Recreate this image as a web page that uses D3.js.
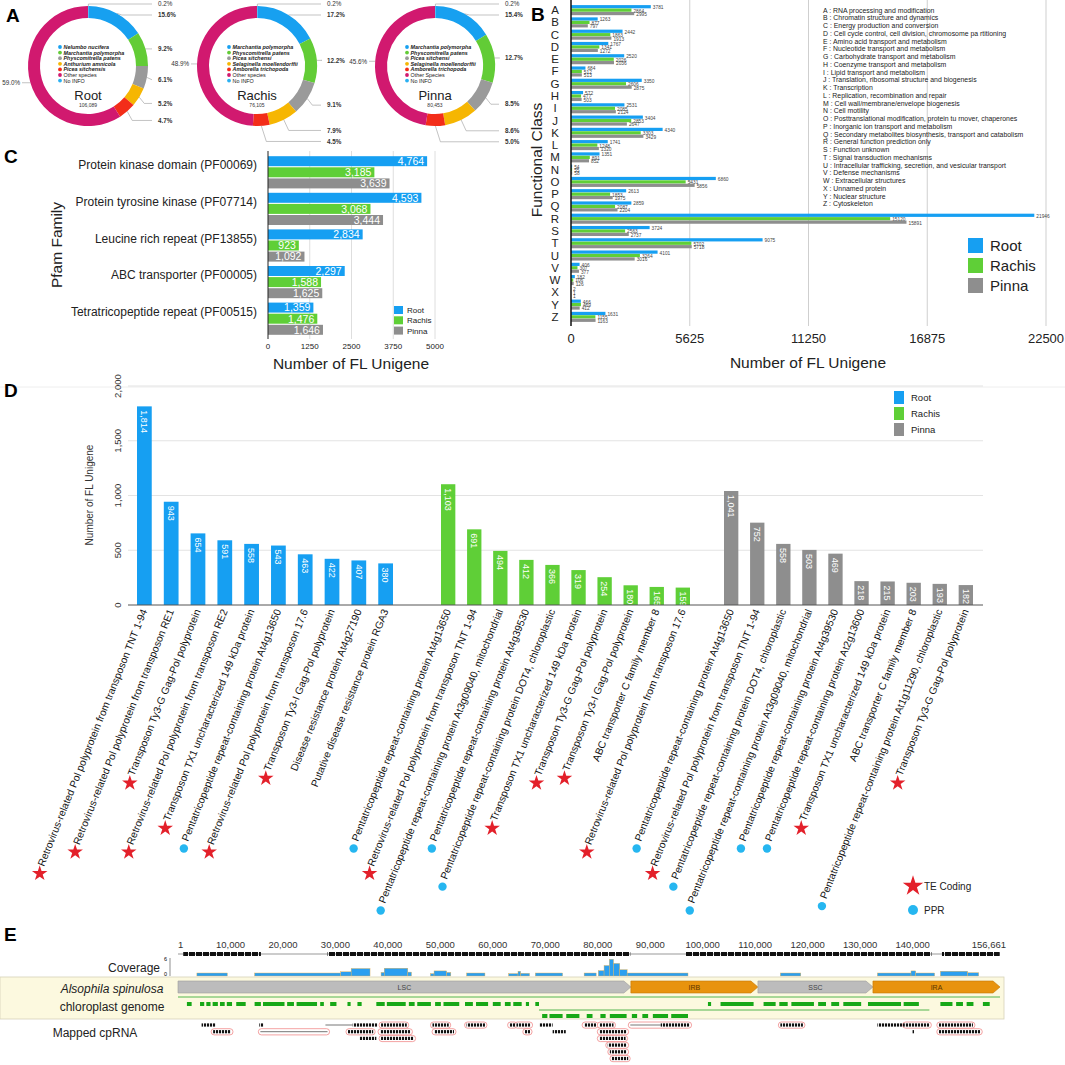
<!DOCTYPE html>
<html>
<head>
<meta charset="utf-8">
<script src="https://cdn.jsdelivr.net/npm/d3@7"></script>
<style>
  body { margin: 0; background: #fff; }
  svg { font-family: "Liberation Sans", Arial, Helvetica, sans-serif; }
</style>
</head>
<body>
<svg id="fig" width="1065" height="1065"></svg>
<script>
// ---------------- data ----------------
var tissues = ["Root", "Rachis", "Pinna"];

// A : species distribution (No INFO first, then named species, other species last)
var rootSpecies = ["No INFO", "Nelumbo nucifera", "Marchantia polymorpha", "Physcomitrella patens", "Anthurium amnicola", "Picea sitchensis", "Other species"];
var rootPct = [0.2, 15.6, 9.2, 6.1, 5.2, 4.7, 59.0];
var rachisSpecies = ["No INFO", "Marchantia polymorpha", "Physcomitrella patens", "Picea sitchensi", "Selaginella moellendorffii", "Amborella trichopoda", "Other species"];
var rachisPct = [0.2, 17.2, 12.2, 9.1, 7.9, 4.5, 48.9];
var pinnaSpecies = ["No INFO", "Marchantia polymorpha", "Physcomitrella patens", "Picea sitchensi", "Selaginella moellendorffii", "Amborella trichopoda", "Other Species"];
var pinnaPct = [0.2, 15.4, 12.7, 8.5, 8.6, 5.0, 45.6];
var donutTotals = ["106,089", "76,105", "80,453"];

// B : KOG functional classes
var cogLetters = "ABCDEFGHIJKLMNOPQRSTUVWXYZ".split("");
var cogNames = ["RNA processing and modification", "Chromatin structure and dynamics", "Energy production and conversion",
  "Cell cycle control, cell division, chromosome pa rtitioning", "Amino acid transport and metabolism", "Nucleotide transport and metabolism",
  "Carbohydrate transport and metabolism", "Coenzyme transport and metabolism", "Lipid transport and metabolism",
  "Translation, ribosomal structure and biogenesis", "Transcription", "Replication, recombination and repair",
  "Cell wall/membrane/envelope biogenesis", "Cell motility", "Posttranslational modification, protein tu rnover, chaperones",
  "Inorganic ion transport and metabolism", "Secondary metabolites biosynthesis, transport and catabolism", "General function prediction only",
  "Function unknown", "Signal transduction mechanisms", "Intracellular trafficking, secretion, and vesicular transport",
  "Defense mechanisms", "Extracellular structures", "Unnamed protein", "Nuclear structure", "Cytoskeleton"];
var cogRoot   = [3781, 1263, 2442, 1767, 2520, 684, 3350, 572, 2531, 3404, 4340, 1741, 1351, 54, 6860, 2613, 2859, 21946, 3724, 9075, 4101, 406, 182, 2, 466, 1631];
var cogRachis = [2864, 877, 1863, 1341, 2026, 512, 2606, 477, 2085, 2853, 3303, 1248, 891, 55, 5431, 1853, 2087, 15120, 2563, 5702, 3264, 307, 106, 1, 469, 1155];
var cogPinna  = [2995, 797, 1913, 1272, 2036, 513, 2875, 503, 2124, 2647, 3429, 1320, 852, 58, 5856, 1975, 2204, 15891, 2737, 5718, 3016, 377, 126, 1, 412, 1163];
var cogTicks = [0, 5625, 11250, 16875, 22500];

// C : Pfam families
var pfamFamilies = ["Protein kinase domain (PF00069)", "Protein tyrosine kinase (PF07714)", "Leucine rich repeat (PF13855)", "ABC transporter (PF00005)", "Tetratricopeptide repeat (PF00515)"];
var pfamRoot = [4764, 4593, 2834, 2297, 1359];
var pfamRachis = [3185, 3068, 923, 1588, 1476];
var pfamPinna = [3639, 3444, 1092, 1625, 1646];
var pfamTicks = [0, 1250, 2500, 3750, 5000];

// D : top 10 annotations per tissue
var dRootLabels = ["Retrovirus-related Pol polyprotein from transposon TNT 1-94", "Retrovirus-related Pol polyprotein from transposon RE1",
  "Transposon Ty3-G Gag-Pol polyprotein", "Retrovirus-related Pol polyprotein from transposon RE2", "Transposon TX1 uncharacterized 149 kDa protein",
  "Pentatricopeptide repeat-containing protein At4g13650", "Retrovirus-related Pol polyprotein from transposon 17.6", "Transposon Ty3-I Gag-Pol polyprotein",
  "Disease resistance protein At4g27190", "Putative disease resistance protein RGA3"];
var dRootValues = [1814, 943, 654, 591, 558, 543, 463, 422, 407, 380];
var dRootMarks = ["te", "te", "te", "te", "te", "ppr", "te", "te", "", ""];
var dRachisLabels = ["Pentatricopeptide repeat-containing protein At4g13650", "Retrovirus-related Pol polyprotein from transposon TNT 1-94",
  "Pentatricopeptide repeat-containing protein At3g09040, mitochondrial", "Pentatricopeptide repeat-containing protein At4g39530",
  "Pentatricopeptide repeat-containing protein DOT4, chloroplastic", "Transposon TX1 uncharacterized 149 kDa protein", "Transposon Ty3-G Gag-Pol polyprotein",
  "Transposon Ty3-I Gag-Pol polyprotein", "ABC transporter C family member 8", "Retrovirus-related Pol polyprotein from transposon 17.6"];
var dRachisValues = [1103, 691, 494, 412, 366, 319, 254, 180, 165, 159];
var dRachisMarks = ["ppr", "te", "ppr", "ppr", "ppr", "te", "te", "te", "", "te"];
var dPinnaLabels = ["Pentatricopeptide repeat-containing protein At4g13650", "Retrovirus-related Pol polyprotein from transposon TNT 1-94",
  "Pentatricopeptide repeat-containing protein DOT4, chloroplastic", "Pentatricopeptide repeat-containing protein At3g09040, mitochondrial",
  "Pentatricopeptide repeat-containing protein At4g39530", "Pentatricopeptide repeat-containing protein At2g13600", "Transposon TX1 uncharacterized 149 kDa protein",
  "ABC transporter C family member 8", "Pentatricopeptide repeat-containing protein At1g11290, chloroplastic", "Transposon Ty3-G Gag-Pol polyprotein"];
var dPinnaValues = [1041, 752, 558, 503, 469, 218, 215, 203, 193, 182];
var dPinnaMarks = ["ppr", "te", "ppr", "ppr", "ppr", "ppr", "te", "", "ppr", "te"];
var dTicks = [0, 500, 1000, 1500, 2000];

// E : chloroplast genome (positions in bp / kb)
var genomeLength = 156661;
var genomeTicks = [1, 10000, 20000, 30000, 40000, 50000, 60000, 70000, 80000, 90000, 100000, 110000, 120000, 130000, 140000, 156661];
var genomeRegions = [["LSC", 1, 86308], ["IRB", 86309, 110524], ["SSC", 110525, 132446], ["IRA", 132447, 156661]];
var rulerBlack = [[1, 15.8], [28.5, 86.2], [96.8, 143.6], [145.6, 156.6]];
var coverage = [[3.6, 9.4, 1], [14.6, 31.0, 1], [31.0, 33.0, 1.4], [33.0, 36.6, 2.5], [38.7, 39.3, 1.2], [39.3, 43.8, 2.6], [43.8, 44.5, 1.3],
  [48.1, 48.8, 0.8], [48.8, 51.2, 1.7], [51.2, 52.0, 1.2], [55.0, 58.5, 1], [63.0, 64.8, 0.8], [64.8, 65.3, 1.6], [65.3, 67.0, 0.9],
  [68.1, 73.3, 1], [77.4, 79.7, 1], [80.1, 81.2, 1.8], [81.2, 82.2, 3.5], [82.2, 83.0, 5.6], [83.0, 84.2, 4.2], [84.2, 85.6, 2.1],
  [85.6, 97.2, 1], [114.8, 118.7, 1], [133.3, 139.7, 1], [139.7, 140.6, 1.7], [140.6, 144.2, 1], [145.3, 150.5, 1.6], [150.5, 152.6, 1.1]];
var genesTop = [[1.7, 2.6], [4.2, 5.0], [5.4, 6.2], [6.6, 7.6], [8.0, 8.9], [9.3, 10.3], [11.1, 12.9], [14.6, 15.8], [16.2, 20.3], [20.8, 22.1],
  [22.6, 26.5], [27.1, 27.8], [29.0, 30.2], [32.3, 32.9], [34.2, 35.0], [37.8, 39.4], [39.8, 43.4], [44.0, 45.1], [45.6, 48.2], [49.0, 50.1],
  [50.6, 53.6], [54.7, 56.2], [56.8, 59.1], [60.0, 61.5], [62.3, 63.4], [63.9, 65.5], [66.3, 66.9], [68.1, 68.8], [101.0, 101.6], [103.4, 109.7],
  [111.6, 113.9], [114.6, 116.2], [116.9, 121.2], [122.0, 123.5], [124.5, 126.0], [126.8, 130.2], [131.5, 137.8], [138.3, 141.2],
  [145.3, 147.6], [148.3, 149.6], [150.3, 151.6], [153.4, 154.7]];
var genesBottom = [[69.4, 70.4], [70.8, 73.3], [74.0, 76.5], [77.9, 79.0], [80.5, 81.5], [82.3, 85.5], [86.5, 87.5], [88.5, 89.6], [90.5, 93.4], [94.0, 97.2]];
var reads = [[4.5, 7.2, 0], [15.5, 16.3, 0], [28.1, 33.3, 0, "line"], [33.3, 38.0, 0], [38.7, 43.6, 0], [48.5, 51.6, 0], [55.0, 58.5, 0],
  [63.2, 64.3, 0], [64.5, 67.2, 0], [68.8, 71.4, 0], [77.4, 79.7, 0], [80.3, 83.0, 0], [86.2, 92.0, 0, "line"], [92.0, 97.5, 0],
  [114.8, 119.1, 0], [133.3, 138.5, 0], [138.5, 143.2, 0], [145.0, 151.5, 0],
  [6.7, 10.1, 1], [15.7, 28.5, 1, "line"], [32.4, 37.2, 1], [38.5, 44.3, 1], [48.8, 52.6, 1], [66.1, 67.1, 1], [71.4, 73.9, 1],
  [80.3, 85.5, 1], [140.0, 140.3, 1], [145.0, 152.9, 1],
  [34.6, 37.8, 2], [38.7, 44.9, 2], [80.3, 85.3, 2], [81.9, 85.5, 3], [82.3, 85.5, 4], [82.7, 85.8, 5]];
var readBoxes = [[38.7, 43.6, 0], [48.5, 51.6, 0], [55.0, 58.5, 0], [63.2, 64.3, 0], [64.5, 67.2, 0], [77.4, 79.7, 0], [80.3, 83.0, 0],
  [86.2, 97.5, 0], [114.8, 119.1, 0], [138.5, 143.2, 0], [145.0, 151.5, 0],
  [6.7, 10.1, 1], [15.7, 28.5, 1], [32.4, 37.2, 1], [38.5, 44.3, 1], [48.8, 52.6, 1], [66.1, 67.1, 1], [80.3, 85.5, 1], [145.0, 152.9, 1],
  [38.7, 44.9, 2], [80.3, 85.3, 2], [81.9, 85.5, 3], [82.3, 85.5, 4], [82.7, 85.8, 5]];

// ---------------- drawing ----------------
var svg = d3.select("#fig");
var colors = ["#169ff2", "#5fcf37", "#8e8e8e"];
var sliceColors = ["#2ab0f2", "#17a0f0", "#62cc36", "#9a9a9a", "#f6b602", "#f32d19", "#d1196f"];

function panelLetter(t, x, y) {
  svg.append("text").attr("x", x).attr("y", y).attr("font-size", 19).attr("font-weight", "bold").text(t);
}

// ===== A =====
panelLetter("A", 6, 22);
function donut(cx, cy, name, total, species, pct) {
  var R = 60, r = 48;
  var g = svg.append("g").attr("transform", "translate(" + cx + "," + cy + ")");
  var arcs = d3.pie().sort(null).value(function(d) { return d; })(pct);
  var arc = d3.arc().innerRadius(r).outerRadius(R);
  g.selectAll("path.slice").data(arcs).enter().append("path").attr("class", "slice")
    .attr("d", arc).attr("fill", function(d, i) { return sliceColors[i]; });

  var prev = -Infinity;
  arcs.forEach(function(d, i) {
    var a = (d.startAngle + d.endAngle) / 2;
    var px = R * Math.sin(a), py = -R * Math.cos(a);
    var txt = pct[i].toFixed(1) + "%";
    var path, tx, ty, anchor = "start";
    if (i == 0) {
      ty = -R - 2;
      path = "M" + px + "," + py + "V" + ty + "H" + (R + 4);
      tx = R + 10;
    } else if (i == pct.length - 1) {
      ty = py;
      path = "M" + px + "," + py + "H" + (-R - 6);
      tx = -R - 8; anchor = "end";
    } else {
      ty = py > 0 ? py * 1.2 : py;
      ty = Math.max(ty, prev + 11);
      path = "M" + px + "," + py + "L" + (px + 5) + "," + ty + "H" + (R + 4);
      tx = R + 10;
    }
    prev = ty;
    g.append("path").attr("d", path).attr("fill", "none").attr("stroke", "#9a9a9a").attr("stroke-width", 0.6);
    g.append("text").attr("x", tx).attr("y", ty + 2.2).attr("text-anchor", anchor).attr("font-size", 6.3)
      .attr("font-weight", (i > 0 && i < pct.length - 1) ? "bold" : "normal").attr("fill", "#333").text(txt);
  });

  // inner legend: named species, other species, no info
  var order = [1, 2, 3, 4, 5, 6, 0];
  order.forEach(function(k, j) {
    var y = -19 + j * 5.6;
    g.append("circle").attr("cx", -28).attr("cy", y).attr("r", 1.9).attr("fill", sliceColors[k]);
    g.append("text").attr("x", -24.5).attr("y", y + 1.9).attr("font-size", 5.4)
      .attr("font-style", k >= 1 && k <= 5 ? "italic" : "normal")
      .attr("font-weight", k >= 1 && k <= 5 ? "bold" : "normal").attr("fill", "#222").text(species[k]);
  });
  g.append("text").attr("y", 34).attr("text-anchor", "middle").attr("font-size", 13).attr("fill", "#222").text(name);
  g.append("text").attr("y", 41).attr("text-anchor", "middle").attr("font-size", 5).attr("fill", "#333").text(total);
}
donut(88, 66, "Root", donutTotals[0], rootSpecies, rootPct);
donut(257, 66, "Rachis", donutTotals[1], rachisSpecies, rachisPct);
donut(435, 66, "Pinna", donutTotals[2], pinnaSpecies, pinnaPct);

// ===== B =====
panelLetter("B", 531, 21);
var xB = d3.scaleLinear().domain([0, 22500]).range([571, 1046]);
var yB = d3.scaleBand().domain(cogLetters).range([4, 323]).paddingInner(0.18).paddingOuter(0.09);
var subB = d3.scaleBand().domain(tissues).range([0, yB.bandwidth()]).paddingInner(0.06);
var cogSeries = [cogRoot, cogRachis, cogPinna];

svg.append("g").selectAll("line").data(cogTicks.slice(1)).enter().append("line")
  .attr("x1", function(d) { return xB(d); }).attr("x2", function(d) { return xB(d); })
  .attr("y1", 0).attr("y2", 326).attr("stroke", "#cfcfcf").attr("stroke-width", 1);

// category legend
svg.append("g").selectAll("text").data(cogLetters).enter().append("text")
  .attr("x", 823).attr("y", function(d, i) { return 12.5 + i * 7.75; })
  .attr("font-size", 6.9).attr("fill", "#222")
  .text(function(d, i) { return d + " : " + cogNames[i]; });

cogSeries.forEach(function(vals, s) {
  var g = svg.append("g");
  g.selectAll("rect").data(vals).enter().append("rect")
    .attr("x", xB(0)).attr("y", function(d, i) { return yB(cogLetters[i]) + subB(tissues[s]); })
    .attr("width", function(d) { return xB(d) - xB(0); }).attr("height", subB.bandwidth())
    .attr("fill", colors[s]);
  g.selectAll("text").data(vals).enter().append("text")
    .attr("x", function(d) { return xB(d) + 2; })
    .attr("y", function(d, i) { return yB(cogLetters[i]) + subB(tissues[s]) + subB.bandwidth() + 0.8; })
    .attr("font-size", 4.8).attr("fill", "#444").text(function(d) { return d; });
});
svg.append("line").attr("x1", xB(0)).attr("x2", xB(0)).attr("y1", 0).attr("y2", 326).attr("stroke", "#111").attr("stroke-width", 1.5);
svg.append("g").selectAll("text").data(cogLetters).enter().append("text")
  .attr("x", 555).attr("y", function(d) { return yB(d) + yB.bandwidth() / 2 + 4; })
  .attr("text-anchor", "middle").attr("font-size", 11.5).attr("fill", "#222").text(function(d) { return d; });
svg.append("g").selectAll("text").data(cogTicks).enter().append("text")
  .attr("x", function(d) { return xB(d); }).attr("y", 343).attr("text-anchor", "middle")
  .attr("font-size", 13).attr("fill", "#222").text(function(d) { return d; });
svg.append("text").attr("x", 808).attr("y", 368).attr("text-anchor", "middle").attr("font-size", 15.5).attr("fill", "#222").text("Number of FL Unigene");
svg.append("text").attr("transform", "translate(542,160) rotate(-90)").attr("text-anchor", "middle")
  .attr("font-size", 15.5).attr("fill", "#222").text("Functional Class");
var legB = svg.append("g").selectAll("g").data(tissues).enter().append("g")
  .attr("transform", function(d, i) { return "translate(968," + (238 + i * 20) + ")"; });
legB.append("rect").attr("width", 15).attr("height", 15).attr("fill", function(d, i) { return colors[i]; });
legB.append("text").attr("x", 22).attr("y", 13).attr("font-size", 15).attr("fill", "#222").text(function(d) { return d; });
svg.append("line").attr("x1", 0).attr("x2", 1065).attr("y1", 387).attr("y2", 387).attr("stroke", "#eee");

// ===== C =====
panelLetter("C", 4, 163);
var xC = d3.scaleLinear().domain([0, 5000]).range([268, 435]);
var yC = d3.scaleBand().domain(pfamFamilies).range([154, 337]).paddingInner(0.12).paddingOuter(0.06);
var subC = d3.scaleBand().domain(tissues).range([0, yC.bandwidth()]).paddingInner(0.1);
var pfamSeries = [pfamRoot, pfamRachis, pfamPinna];
svg.append("g").selectAll("line").data(pfamTicks.slice(1)).enter().append("line")
  .attr("x1", function(d) { return xC(d); }).attr("x2", function(d) { return xC(d); })
  .attr("y1", 151).attr("y2", 339).attr("stroke", "#dedede");
pfamSeries.forEach(function(vals, s) {
  var g = svg.append("g");
  g.selectAll("rect").data(vals).enter().append("rect")
    .attr("x", xC(0)).attr("y", function(d, i) { return yC(pfamFamilies[i]) + subC(tissues[s]); })
    .attr("width", function(d) { return xC(d) - xC(0); }).attr("height", subC.bandwidth()).attr("fill", colors[s]);
  g.selectAll("text").data(vals).enter().append("text")
    .attr("x", function(d) { return xC(d) - 3; })
    .attr("y", function(d, i) { return yC(pfamFamilies[i]) + subC(tissues[s]) + subC.bandwidth() / 2 + 3.8; })
    .attr("text-anchor", "end").attr("font-size", 10.5).attr("fill", "#fff").text(function(d) { return d3.format(",")(d); });
});
svg.append("line").attr("x1", xC(0)).attr("x2", xC(0)).attr("y1", 151).attr("y2", 339).attr("stroke", "#222").attr("stroke-width", 1);
svg.append("g").selectAll("text").data(pfamFamilies).enter().append("text")
  .attr("x", 257).attr("y", function(d) { return yC(d) + yC.bandwidth() / 2 - 3; })
  .attr("text-anchor", "end").attr("font-size", 12).attr("fill", "#222").text(function(d) { return d; });
svg.append("g").selectAll("text").data(pfamTicks).enter().append("text")
  .attr("x", function(d) { return xC(d); }).attr("y", 349).attr("text-anchor", "middle").attr("font-size", 8).attr("fill", "#222")
  .text(function(d) { return d; });
svg.append("text").attr("x", 351).attr("y", 369).attr("text-anchor", "middle").attr("font-size", 15.5).attr("fill", "#222").text("Number of FL Unigene");
svg.append("text").attr("transform", "translate(62,245) rotate(-90)").attr("text-anchor", "middle").attr("font-size", 15.5).attr("fill", "#222").text("Pfam Family");
var legC = svg.append("g").selectAll("g").data(tissues).enter().append("g")
  .attr("transform", function(d, i) { return "translate(394," + (306 + i * 10.3) + ")"; });
legC.append("rect").attr("width", 9).attr("height", 8).attr("fill", function(d, i) { return colors[i]; });
legC.append("text").attr("x", 13).attr("y", 7).attr("font-size", 8).attr("fill", "#222").text(function(d) { return d; });

// ===== D =====
panelLetter("D", 4, 397);
var dSets = [[dRootLabels, dRootValues, dRootMarks], [dRachisLabels, dRachisValues, dRachisMarks], [dPinnaLabels, dPinnaValues, dPinnaMarks]];
var dGroupRange = [[137, 393], [441, 690], [724, 973]];
var yD = d3.scaleLinear().domain([0, 2000]).range([605, 386]);
var bars = [];
dSets.forEach(function(set, s) {
  var xs = d3.scaleBand().domain(d3.range(set[0].length)).range(dGroupRange[s]).paddingInner(0.45).paddingOuter(0);
  set[0].forEach(function(lab, i) {
    bars.push({ label: lab, value: set[1][i], mark: set[2][i], s: s, x: xs(i), w: xs.bandwidth() });
  });
});

svg.append("g").selectAll("line").data(dTicks.slice(1)).enter().append("line")
  .attr("x1", 128).attr("x2", 983).attr("y1", function(d) { return yD(d); }).attr("y2", function(d) { return yD(d); })
  .attr("stroke", "#e3e3e3");
svg.append("g").selectAll("text").data(dTicks).enter().append("text")
  .attr("transform", function(d) { return "translate(121," + yD(d) + ") rotate(-90)"; })
  .attr("text-anchor", "middle").attr("font-size", 9.5).attr("fill", "#333").text(function(d) { return d3.format(",")(d); });
svg.append("text").attr("transform", "translate(93,495) rotate(-90)").attr("text-anchor", "middle").attr("font-size", 10).attr("fill", "#333").text("Number of FL Unigene");

svg.append("g").selectAll("rect").data(bars).enter().append("rect")
  .attr("x", function(d) { return d.x; }).attr("y", function(d) { return yD(d.value); })
  .attr("width", function(d) { return d.w; }).attr("height", function(d) { return yD(0) - yD(d.value); })
  .attr("fill", function(d) { return colors[d.s]; });
svg.append("g").selectAll("text").data(bars).enter().append("text")
  .attr("transform", function(d) { return "translate(" + (d.x + d.w / 2 - 3.2) + "," + (yD(d.value) + 4) + ") rotate(90)"; })
  .attr("font-size", 9).attr("fill", "#fff").text(function(d) { return d3.format(",")(d.value); });
svg.append("line").attr("x1", 128).attr("x2", 983).attr("y1", yD(0)).attr("y2", yD(0)).attr("stroke", "#555").attr("stroke-width", 1);

var ang = 68, rad = ang * Math.PI / 180;
var star = d3.symbol().type(d3.symbolStar).size(75);
bars.forEach(function(d) {
  var ax = d.x + d.w / 2 + 3, ay = 611;
  var t = svg.append("text").attr("transform", "translate(" + ax + "," + ay + ") rotate(" + (-ang) + ")")
    .attr("text-anchor", "end").attr("font-size", 10.3).attr("fill", "#111").text(d.label);
  var L = t.node().getComputedTextLength() + 6;
  var mx = ax - L * Math.cos(rad) - 2, my = ay + L * Math.sin(rad) + 1;
  if (d.mark == "te") {
    svg.append("path").attr("d", star).attr("transform", "translate(" + mx + "," + my + ")").attr("fill", "#e3202a");
  } else if (d.mark == "ppr") {
    svg.append("circle").attr("cx", mx).attr("cy", my).attr("r", 4.2).attr("fill", "#26b6f0");
  }
});
var legD = svg.append("g").selectAll("g").data(tissues).enter().append("g")
  .attr("transform", function(d, i) { return "translate(894," + (391 + i * 16) + ")"; });
legD.append("rect").attr("width", 10).attr("height", 13).attr("fill", function(d, i) { return colors[i]; });
legD.append("text").attr("x", 17).attr("y", 10).attr("font-size", 9.5).attr("fill", "#222").text(function(d) { return d; });
svg.append("path").attr("d", d3.symbol().type(d3.symbolStar).size(130)).attr("transform", "translate(913,886)").attr("fill", "#e3202a");
svg.append("text").attr("x", 924).attr("y", 890).attr("font-size", 10).attr("fill", "#222").text("TE Coding");
svg.append("circle").attr("cx", 913).attr("cy", 910).attr("r", 5).attr("fill", "#26b6f0");
svg.append("text").attr("x", 924).attr("y", 914).attr("font-size", 10).attr("fill", "#222").text("PPR");

// ===== E =====
panelLetter("E", 4, 941);
var xE = d3.scaleLinear().domain([1, genomeLength]).range([178, 1000]);
var kb = function(v) { return xE(v * 1000); };
var defs = svg.append("defs");
var pat = defs.append("pattern").attr("id", "readPat").attr("patternUnits", "userSpaceOnUse").attr("width", 3).attr("height", 10);
pat.append("rect").attr("width", 2.1).attr("height", 10).attr("fill", "#111");
var pat2 = defs.append("pattern").attr("id", "rulerPat").attr("patternUnits", "userSpaceOnUse").attr("width", 7).attr("height", 10);
pat2.append("rect").attr("width", 6).attr("height", 10).attr("fill", "#111");

svg.append("g").selectAll("text").data(genomeTicks).enter().append("text")
  .attr("x", function(d, i) { return i == genomeTicks.length - 1 ? xE(d) + 6 : xE(d); }).attr("y", 948)
  .attr("text-anchor", function(d, i) { return i == 0 ? "start" : (i == genomeTicks.length - 1 ? "end" : "middle"); })
  .attr("font-size", 9.5).attr("fill", "#333").text(function(d) { return d3.format(",")(d); });
svg.append("line").attr("x1", xE(1)).attr("x2", xE(genomeLength)).attr("y1", 954).attr("y2", 954).attr("stroke", "#999").attr("stroke-width", 1);
svg.append("g").selectAll("rect").data(rulerBlack).enter().append("rect")
  .attr("x", function(d) { return kb(d[0]); }).attr("width", function(d) { return kb(d[1]) - kb(d[0]); })
  .attr("y", 952).attr("height", 4).attr("fill", "url(#rulerPat)");

// coverage
var yCov = d3.scaleLinear().domain([0, 6]).range([976, 958]);
svg.append("g").selectAll("rect").data(coverage).enter().append("rect")
  .attr("x", function(d) { return kb(d[0]); }).attr("width", function(d) { return kb(d[1]) - kb(d[0]); })
  .attr("y", function(d) { return yCov(d[2]); }).attr("height", function(d) { return yCov(0) - yCov(d[2]); })
  .attr("fill", "#2b9ff0").attr("stroke", "#e9b04a").attr("stroke-width", 0.4);
svg.append("line").attr("x1", 170).attr("x2", 170).attr("y1", yCov(6)).attr("y2", yCov(0)).attr("stroke", "#444").attr("stroke-width", 0.6);
svg.append("text").attr("x", 167).attr("y", yCov(6) + 3).attr("text-anchor", "end").attr("font-size", 5.5).text("6");
svg.append("text").attr("x", 167).attr("y", yCov(0)).attr("text-anchor", "end").attr("font-size", 5.5).text("0");
svg.append("text").attr("x", 160).attr("y", 972).attr("text-anchor", "end").attr("font-size", 12).attr("fill", "#222").text("Coverage");

// genome band
svg.append("rect").attr("x", 0).attr("y", 977).attr("width", 1004).attr("height", 42).attr("fill", "#fcf9df")
  .attr("stroke", "#d6d3b8").attr("stroke-width", 0.8);
svg.append("text").attr("x", 112).attr("y", 993).attr("text-anchor", "middle").attr("font-size", 12).attr("font-style", "italic").attr("fill", "#222").text("Alsophila spinulosa");
svg.append("text").attr("x", 112).attr("y", 1011).attr("text-anchor", "middle").attr("font-size", 12).attr("fill", "#222").text("chloroplast genome");
var regColors = { LSC: "#bcbcbc", IRB: "#e8930e", SSC: "#bcbcbc", IRA: "#e8930e" };
genomeRegions.forEach(function(r) {
  var x0 = xE(r[1]), x1 = xE(r[2]), y0 = 981, h = 12;
  svg.append("path").attr("d", "M" + x0 + "," + y0 + "H" + (x1 - 7) + "L" + x1 + "," + (y0 + h / 2) + "L" + (x1 - 7) + "," + (y0 + h) + "H" + x0 + "Z")
    .attr("fill", regColors[r[0]]).attr("stroke", r[0] == "LSC" || r[0] == "SSC" ? "#9c9c9c" : "#c27708").attr("stroke-width", 0.6);
  svg.append("text").attr("x", (x0 + x1) / 2).attr("y", y0 + 8.8).attr("text-anchor", "middle").attr("font-size", 7)
    .attr("fill", r[0] == "LSC" || r[0] == "SSC" ? "#444" : "#5a3500").text(r[0]);
});
svg.append("line").attr("x1", xE(1)).attr("x2", xE(genomeLength)).attr("y1", 997).attr("y2", 997).attr("stroke", "#2aa52a").attr("stroke-width", 0.8);
svg.append("line").attr("x1", kb(68.8)).attr("x2", kb(143.2)).attr("y1", 1010).attr("y2", 1010).attr("stroke", "#2aa52a").attr("stroke-width", 0.8);
svg.append("g").selectAll("rect").data(genesTop).enter().append("rect")
  .attr("x", function(d) { return kb(d[0]); }).attr("width", function(d) { return Math.max(1, kb(d[1]) - kb(d[0])); })
  .attr("y", 1002).attr("height", 4).attr("fill", "#17a817");
svg.append("g").selectAll("rect").data(genesBottom).enter().append("rect")
  .attr("x", function(d) { return kb(d[0]); }).attr("width", function(d) { return Math.max(1, kb(d[1]) - kb(d[0])); })
  .attr("y", 1014).attr("height", 4).attr("fill", "#17a817");

// mapped reads
var rowY = function(r) { return 1025 + r * 6.7; };
svg.append("text").attr("x", 95).attr("y", 1037).attr("text-anchor", "middle").attr("font-size", 12).attr("fill", "#222").text("Mapped cpRNA");
svg.append("g").selectAll("rect").data(readBoxes).enter().append("rect")
  .attr("x", function(d) { return kb(d[0]) - 2; }).attr("width", function(d) { return kb(d[1]) - kb(d[0]) + 4; })
  .attr("y", function(d) { return rowY(d[2]) - 3; }).attr("height", 6.2).attr("rx", 3)
  .attr("fill", "#fff").attr("stroke", "#f08a8a").attr("stroke-width", 0.8);
reads.forEach(function(d) {
  if (d[3] == "line") {
    svg.append("line").attr("x1", kb(d[0])).attr("x2", kb(d[1])).attr("y1", rowY(d[2])).attr("y2", rowY(d[2])).attr("stroke", "#777").attr("stroke-width", 1);
  } else {
    svg.append("rect").attr("x", kb(d[0])).attr("width", Math.max(1, kb(d[1]) - kb(d[0]))).attr("y", rowY(d[2]) - 1.6).attr("height", 3.2).attr("fill", "url(#readPat)");
  }
});
</script>
</body>
</html>
